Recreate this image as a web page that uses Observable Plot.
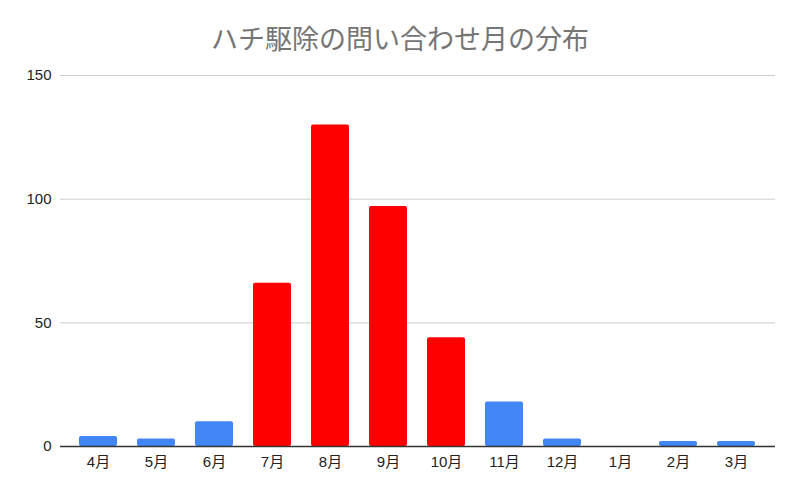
<!DOCTYPE html>
<html><head><meta charset="utf-8">
<script src="https://cdn.jsdelivr.net/npm/d3@7"></script>
<script src="https://cdn.jsdelivr.net/npm/@observablehq/plot@0.6"></script>
<style>
html,body{margin:0;padding:0;background:#fff;}
#title{height:60px;line-height:76px;text-align:center;font-family:"Noto Sans CJK JP",Roboto,sans-serif;font-size:27px;color:#757575;}
#chart svg{display:block;}
</style></head>
<body>
<div id="title">ハチ駆除の問い合わせ月の分布</div>
<div id="chart"></div>
<script>
const months = ["4月","5月","6月","7月","8月","9月","10月","11月","12月","1月","2月","3月"];
const counts = [4,3,10,66,130,97,44,18,3,0,2,2];
const peakMonths = ["7月","8月","9月","10月"];
const yTicks = [0,50,100,150];

const data = months.map((m,i)=>({month:m, count:counts[i], peak: peakMonths.includes(m)}));

const chart = Plot.plot({
  width: 800,
  height: 435,
  marginTop: 15,
  marginBottom: 49,
  marginLeft: 60,
  marginRight: 25,
  style: {fontFamily: "'Liberation Sans', Arial, 'Noto Sans CJK JP', sans-serif", background: "#fff"},
  x: {domain: months, type: "band", paddingInner: 0.345, paddingOuter: 0.1725, insetLeft: 9, insetRight: 10},
  y: {domain: [0,150]},
  marks: [
    Plot.ruleY(yTicks.filter(d=>d>0), {stroke: "#cccccc", strokeWidth: 1}),
    Plot.barY(data, {x: "month", y: "count", fill: d => d.peak ? "#ff0000" : "#4285f4", rx: 2}),
    Plot.ruleY([0], {stroke: "#333", strokeWidth: 1.5}),
    Plot.axisY(yTicks, {label: null, tickSize: 0, tickPadding: 9, fontSize: 15, fill: "#222"}),
    Plot.axisX({label: null, tickSize: 0, tickPadding: 10, fontSize: 15, fill: "#222"})
  ]
});
document.getElementById("chart").appendChild(chart);
</script>
</body></html>
